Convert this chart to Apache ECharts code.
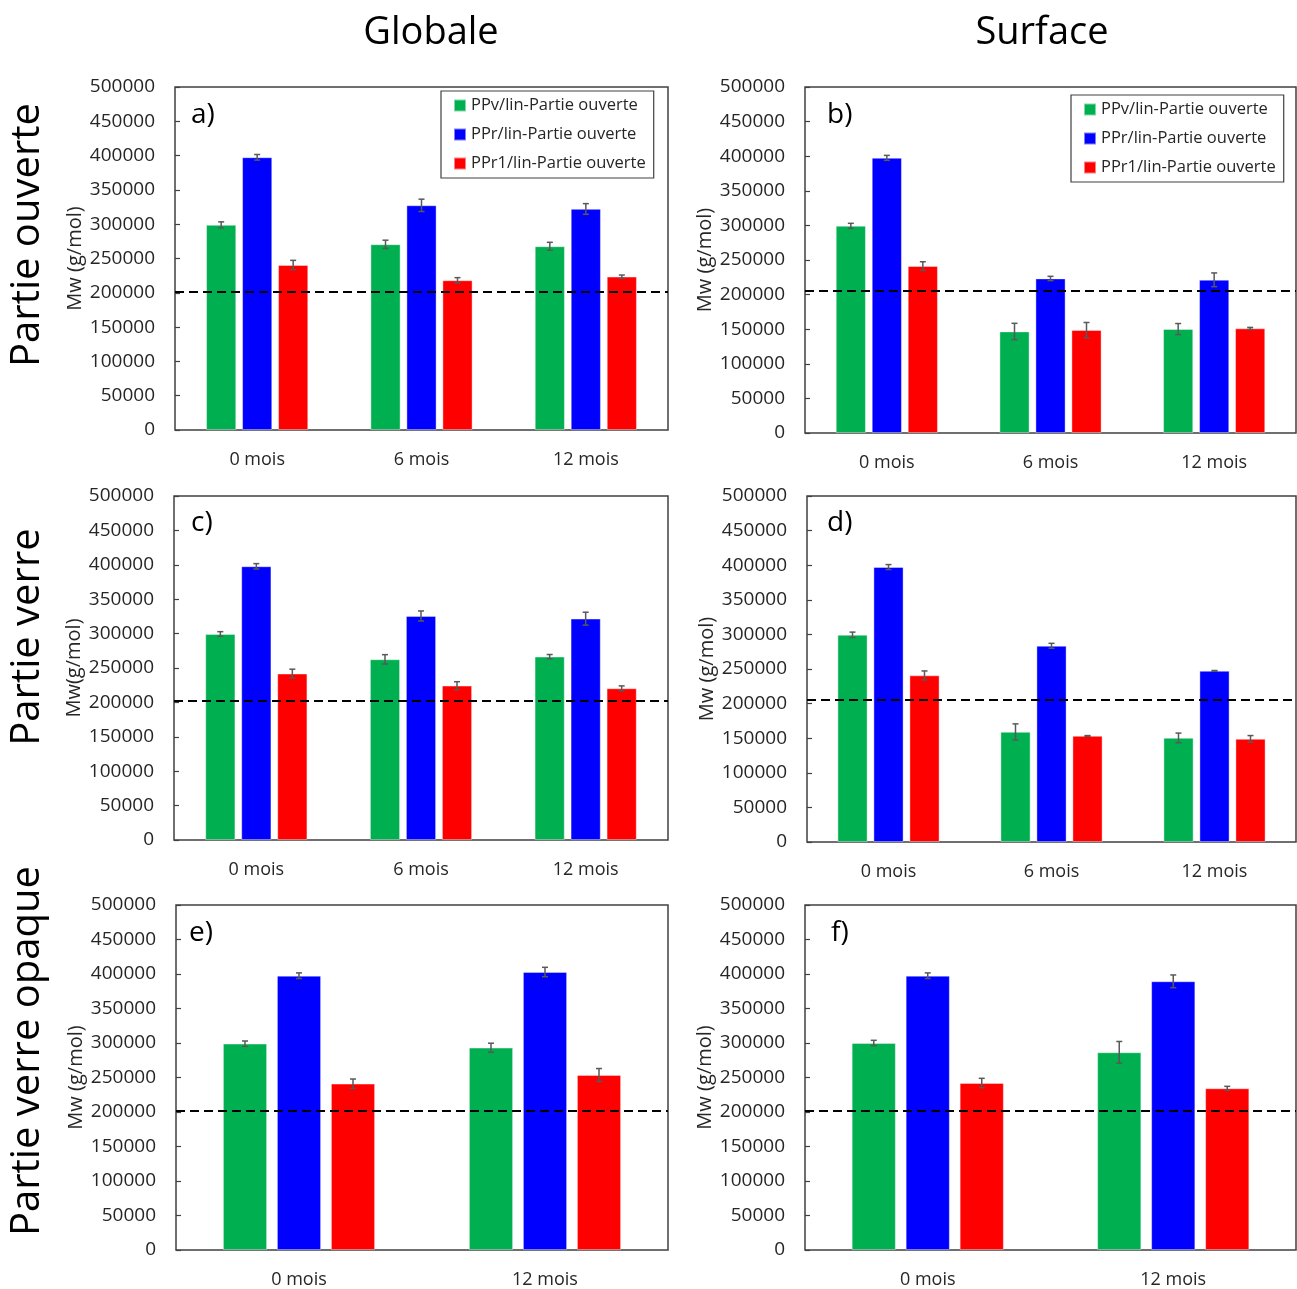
<!DOCTYPE html>
<html>
<head>
<meta charset="utf-8">
<script src="https://cdn.jsdelivr.net/npm/echarts@6/dist/echarts.min.js"></script>
<style>html,body{margin:0;padding:0;background:#fff;}#c{width:1297px;height:1289px;}</style>
</head>
<body>
<div id="c"></div>
<script>
// ---------- DATA ----------
const categories3 = ['0 mois', '6 mois', '12 mois'];
const categories2 = ['0 mois', '12 mois'];
const seriesNames = ['PPv/lin-Partie ouverte', 'PPr/lin-Partie ouverte', 'PPr1/lin-Partie ouverte'];
const yTicks = [0, 50000, 100000, 150000, 200000, 250000, 300000, 350000, 400000, 450000, 500000];

// a) Partie ouverte - Globale
const a_PPv = [299000, 270700, 267800];
const a_PPr = [397500, 327500, 322200];
const a_PPr1 = [240500, 218200, 223500];
const a_PPv_err = [4400, 6000, 5800];
const a_PPr_err = [4100, 9000, 7800];
const a_PPr1_err = [6800, 3900, 2400];
const a_ref = 202000;

// b) Partie ouverte - Surface
const b_PPv = [299400, 146700, 150200];
const b_PPr = [397600, 223300, 221400];
const b_PPr1 = [241200, 148700, 151100];
const b_PPv_err = [3600, 11800, 8000];
const b_PPr_err = [3600, 3100, 9900];
const b_PPr1_err = [6300, 11000, 1500];
const b_ref = 205000;

// c) Partie verre - Globale
const c_PPv = [299400, 262600, 266500];
const c_PPr = [397800, 325600, 321700];
const c_PPr1 = [241800, 224300, 220400];
const c_PPv_err = [3400, 6800, 3100];
const c_PPr_err = [3900, 7300, 9400];
const c_PPr1_err = [6500, 5800, 3600];
const c_ref = 202000;

// d) Partie verre - Surface
const d_PPv = [299400, 159100, 150400];
const d_PPr = [397300, 283500, 247300];
const d_PPr1 = [240700, 153300, 149000];
const d_PPv_err = [3900, 11600, 7000];
const d_PPr_err = [3600, 3600, 500];
const d_PPr1_err = [6500, 500, 4800];
const d_ref = 205000;

// e) Partie verre opaque - Globale
const e_PPv = [299000, 293200];
const e_PPr = [397500, 402900];
const e_PPr1 = [241000, 253600];
const e_PPv_err = [3900, 6500];
const e_PPr_err = [4100, 6800];
const e_PPr1_err = [6800, 9400];
const e_ref = 202000;

// f) Partie verre opaque - Surface
const f_PPv = [300000, 286500];
const f_PPr = [397500, 389400];
const f_PPr1 = [242000, 234300];
const f_PPv_err = [3900, 15700];
const f_PPr_err = [4100, 9200];
const f_PPr1_err = [6800, 2900];
const f_ref = 202000;

// ---------- LAYOUT / STYLE ----------
const FONT = '"Open Sans", "Liberation Sans", sans-serif';
const colors = ['#00B050', '#0000FF', '#FF0000'];
const panels = [
  {cats: categories3, vals: [a_PPv, a_PPr, a_PPr1], errs: [a_PPv_err, a_PPr_err, a_PPr1_err], ref: a_ref,
   grid: {left: 175, top: 87, width: 493, height: 343}, yName: 'Mw (g/mol)', barW: 30, gap: 6},
  {cats: categories3, vals: [b_PPv, b_PPr, b_PPr1], errs: [b_PPv_err, b_PPr_err, b_PPr1_err], ref: b_ref,
   grid: {left: 805, top: 87, width: 491, height: 346}, yName: 'Mw (g/mol)', barW: 30, gap: 6},
  {cats: categories3, vals: [c_PPv, c_PPr, c_PPr1], errs: [c_PPv_err, c_PPr_err, c_PPr1_err], ref: c_ref,
   grid: {left: 174, top: 496, width: 494, height: 344}, yName: 'Mw(g/mol)', barW: 30, gap: 6},
  {cats: categories3, vals: [d_PPv, d_PPr, d_PPr1], errs: [d_PPv_err, d_PPr_err, d_PPr1_err], ref: d_ref,
   grid: {left: 807, top: 496, width: 489, height: 346}, yName: 'Mw (g/mol)', barW: 30, gap: 6},
  {cats: categories2, vals: [e_PPv, e_PPr, e_PPr1], errs: [e_PPv_err, e_PPr_err, e_PPr1_err], ref: e_ref,
   grid: {left: 176, top: 905, width: 492, height: 345}, yName: 'Mw (g/mol)', barW: 44, gap: 10},
  {cats: categories2, vals: [f_PPv, f_PPr, f_PPr1], errs: [f_PPv_err, f_PPr_err, f_PPr1_err], ref: f_ref,
   grid: {left: 805, top: 905, width: 491, height: 345}, yName: 'Mw (g/mol)', barW: 44, gap: 10}
];

const grids = [], xAxes = [], yAxes = [], series = [];
panels.forEach((p, pi) => {
  grids.push(Object.assign({show: true, borderColor: '#404040', borderWidth: 1.5, backgroundColor: 'transparent'}, p.grid));
  xAxes.push({
    type: 'category', gridIndex: pi, data: p.cats,
    axisLine: {show: false}, axisTick: {show: false},
    axisLabel: {color: '#262626', fontFamily: FONT, fontSize: 18, margin: 21}
  });
  yAxes.push({
    type: 'value', gridIndex: pi, min: yTicks[0], max: yTicks[yTicks.length - 1], interval: yTicks[1] - yTicks[0],
    axisLine: {show: false},
    axisTick: {show: true, inside: true, length: 5, lineStyle: {color: '#404040', width: 1.2}},
    splitLine: {show: false},
    axisLabel: {color: '#262626', fontFamily: FONT, fontSize: 19, margin: 20, formatter: v => String(v)},
    name: p.yName, nameLocation: 'middle', nameGap: 90, nameRotate: 90,
    nameTextStyle: {color: '#262626', fontFamily: FONT, fontSize: 20}
  });
  p.vals.forEach((vals, si) => {
    const s = {
      name: seriesNames[si], type: 'bar', xAxisIndex: pi, yAxisIndex: pi,
      data: vals, barWidth: p.barW, barGap: (p.gap / p.barW * 100) + '%',
      itemStyle: {color: colors[si], borderColor: 'rgba(255,255,255,0.5)', borderWidth: 0.8},
      z: 2
    };
    if (si === 0) {
      s.markLine = {
        silent: true, symbol: ['none', 'none'], label: {show: false},
        lineStyle: {color: '#000', type: [9, 5], width: 2},
        data: [{yAxis: p.ref}], z: 5
      };
    }
    series.push(s);
    const step = p.barW + p.gap;
    const offset = (si - 1) * step;
    series.push({
      name: seriesNames[si], type: 'custom', xAxisIndex: pi, yAxisIndex: pi, z: 4,
      data: vals.map((v, i) => [i, v, p.errs[si][i]]),
      renderItem: function (params, api) {
        const ci = api.value(0), v = api.value(1), e = api.value(2);
        const c = api.coord([ci, v]);
        const hi = api.coord([ci, v + e])[1];
        const lo = api.coord([ci, v - e])[1];
        const x = c[0] + offset;
        const cap = 3;
        const st = {stroke: '#595959', lineWidth: 1.5};
        return {type: 'group', children: [
          {type: 'line', shape: {x1: x, y1: hi, x2: x, y2: lo}, style: st},
          {type: 'line', shape: {x1: x - cap, y1: hi, x2: x + cap, y2: hi}, style: st},
          {type: 'line', shape: {x1: x - cap, y1: lo, x2: x + cap, y2: lo}, style: st}
        ]};
      }
    });
  });
});

const legendBase = {
  orient: 'vertical', data: seriesNames.map(n => ({name: n, icon: 'rect'})),
  itemWidth: 12, itemHeight: 12, itemGap: 12,
  borderColor: '#404040', borderWidth: 1.2, padding: [6, 8, 6, 12],
  backgroundColor: '#fff',
  textStyle: {color: '#262626', fontFamily: FONT, fontSize: 16.5, lineHeight: 16},
  selectedMode: false, z: 10
};

const panelLabels = [['a)', 191, 115], ['b)', 827, 115], ['c)', 191, 523], ['d)', 827, 523], ['e)', 189, 933], ['f)', 831, 933]];

const graphics = [
  {type: 'text', x: 431, y: 33, style: {text: 'Globale', font: '38px ' + FONT, fill: '#000', textAlign: 'center', textVerticalAlign: 'middle'}},
  {type: 'text', x: 1042, y: 33, style: {text: 'Surface', font: '38px ' + FONT, fill: '#000', textAlign: 'center', textVerticalAlign: 'middle'}},
  {type: 'text', x: 28, y: 235, rotation: Math.PI / 2, style: {text: 'Partie ouverte', font: '40px ' + FONT, fill: '#000', textAlign: 'center', textVerticalAlign: 'middle'}},
  {type: 'text', x: 28, y: 637, rotation: Math.PI / 2, style: {text: 'Partie verre', font: '40px ' + FONT, fill: '#000', textAlign: 'center', textVerticalAlign: 'middle'}},
  {type: 'text', x: 28, y: 1051, rotation: Math.PI / 2, style: {text: 'Partie verre opaque', font: '40px ' + FONT, fill: '#000', textAlign: 'center', textVerticalAlign: 'middle'}}
];
panelLabels.forEach(([t, x, y]) => graphics.push({type: 'text', x: x, y: y, z: 20,
  style: {text: t, font: '28px ' + FONT, fill: '#000', textAlign: 'left', textVerticalAlign: 'middle'}}));

const chart = echarts.init(document.getElementById('c'), null, {renderer: 'canvas'});
chart.setOption({
  animation: false,
  backgroundColor: '#fff',
  grid: grids, xAxis: xAxes, yAxis: yAxes, series: series,
  legend: [
    Object.assign({}, legendBase, {left: 441, top: 91, width: 214}),
    Object.assign({}, legendBase, {left: 1071, top: 95, width: 215})
  ],
  graphic: graphics
});
</script>
</body>
</html>
